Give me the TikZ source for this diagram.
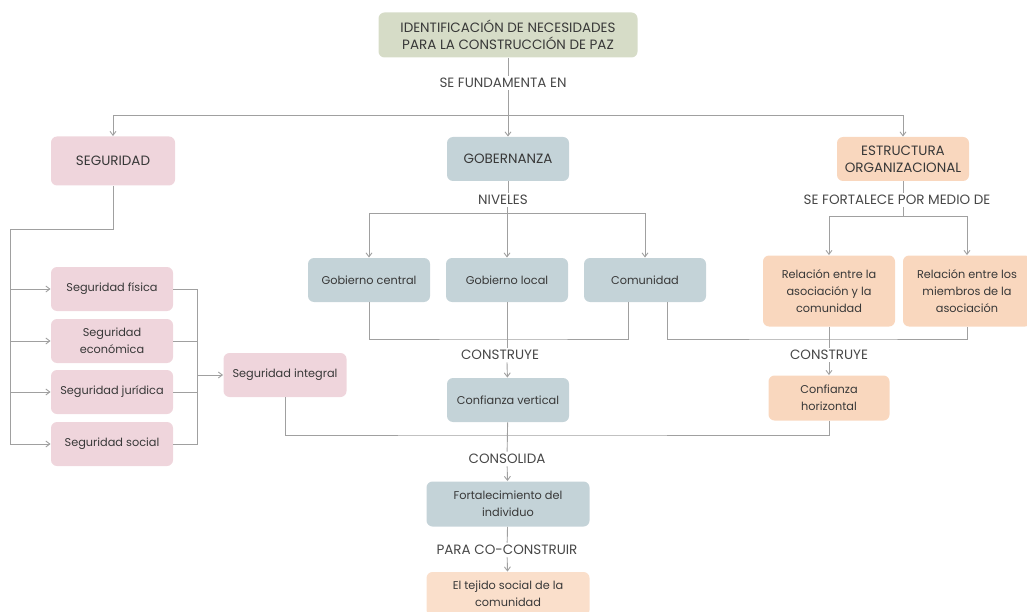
\documentclass[tikz,border=0pt]{standalone}
\usepackage{fontspec}
\setmainfont{Poppins}
\usetikzlibrary{arrows.meta}
\definecolor{sage}{HTML}{D6DCC7}
\definecolor{pinkbox}{HTML}{EFD5DC}
\definecolor{bluebox}{HTML}{C4D3D8}
\definecolor{peachbox}{HTML}{F9D7BE}
\definecolor{linegray}{HTML}{A0A0A0}
\tikzset{
  box/.style={rounded corners=6pt, align=center, inner sep=0pt, text=black!78,
    font=\fontsize{11.3}{17}\selectfont, minimum width=122, minimum height=44},
  caps/.style={font=\fontsize{13.5}{17}\selectfont},
  seg/.style={box, fill=pinkbox},
  gob/.style={box, fill=bluebox},
  est/.style={box, fill=peachbox},
  lbl/.style={inner sep=2pt, text=black!72, font=\fontsize{13.5}{16}\selectfont}
}
\begin{document}
\begin{tikzpicture}[x=1pt, y=-1pt, line width=0.9pt, draw=linegray, >={Straight Barb[length=4pt,width=6pt]}]
      \useasboundingbox (0,0) rectangle (1027,612);
      \draw
        (508,35) node[box, caps, fill=sage, minimum width=259, minimum height=45] (top){IDENTIFICACIÓN DE NECESIDADES\\PARA LA CONSTRUCCIÓN DE PAZ}
        (503,83) node[lbl] (fund){SE FUNDAMENTA EN}
        (113,161) node[seg, caps, minimum width=124, minimum height=49] (seg){SEGURIDAD}
        (508,159) node[gob, caps] (gob){GOBERNANZA}
        (903,159) node[est, caps, minimum width=132] (est){ESTRUCTURA\\ORGANIZACIONAL}
        (503,200) node[lbl] (niv){NIVELES}
        (897,200) node[lbl] (fort){SE FORTALECE POR MEDIO DE}
        (369,280) node[gob] (gcen){Gobierno central}
        (507,280) node[gob] (gloc){Gobierno local}
        (645,280) node[gob] (com){Comunidad}
        (829,291) node[est, minimum width=132, minimum height=71] (rasoc){Relación entre la\\asociación y la\\comunidad}
        (967,291) node[est, minimum width=128, minimum height=71] (rmiem){Relación entre los\\miembros de la\\asociación}
        (112,289) node[seg] (sfis){Seguridad física}
        (112,341) node[seg] (seco){Seguridad\\económica}
        (112,392) node[seg] (sjur){Seguridad jurídica}
        (112,444) node[seg] (ssoc){Seguridad social}
        (285,375) node[seg, minimum width=123] (sint){Seguridad integral}
        (500,355) node[lbl] (cons1){CONSTRUYE}
        (829,355) node[lbl] (cons2){CONSTRUYE}
        (508,400) node[gob] (cver){Confianza vertical}
        (829,398) node[est, minimum width=121, minimum height=45] (chor){Confianza\\horizontal}
        (507,459) node[lbl] (consol){CONSOLIDA}
        (508,504) node[gob, minimum width=163, minimum height=45] (fortal){Fortalecimiento del\\individuo}
        (507,550) node[lbl] (para){PARA CO-CONSTRUIR}
        (508,594) node[est, fill=peachbox!80, minimum width=163] (tej){El tejido social de la\\comunidad};
      \coordinate (bus1) at (508,115);
      \coordinate (bus2) at (508,213);
      \coordinate (bus3) at (903,216);
      \coordinate (j1) at (508,339);
      \coordinate (j2) at (829,339);
      \coordinate (j3) at (508,435);
      \coordinate (s1) at (10,229);
      \coordinate (s2) at (10,444);
      \coordinate (r1) at (197,289);
      \coordinate (r2) at (197,444);
      \begin{scope}[linegray]
        \draw (top) -- (top |- fund.north);
        \draw[->] (top |- fund.south) -- (gob);
        \draw[->] (bus1) -| (seg);
        \draw[->] (bus1) -| (est);
        \draw (gob) -- (gob |- niv.north);
        \draw[->] (gloc |- niv.south) -- (gloc);
        \draw[->] (bus2) -| (gcen);
        \draw[->] (bus2) -| (com);
        \draw (est) -- (est |- fort.north);
        \draw (est |- fort.south) -- (bus3);
        \draw[->] (bus3) -| (rasoc);
        \draw[->] (bus3) -| (rmiem);
        \draw (gcen.south) |- (j1) -| ([xshift=-17]com.south);
        \draw (gloc) -- (gloc |- cons1.north);
        \draw[->] (gloc |- cons1.south) -- (cver);
        \draw ([xshift=22]com.south) |- (j2) -| (rmiem.south);
        \draw (rasoc) -- (cons2);
        \draw[->] (cons2) -- (chor);
        \draw (seg) |- (s1) -- (s2);
        \draw[->] (s1 |- sfis) -- (sfis);
        \draw[->] (s1 |- seco) -- (seco);
        \draw[->] (s1 |- sjur) -- (sjur);
        \draw[->] (s2) -- (ssoc);
        \draw (sfis.east) -- (r1) -- (r2) -- (ssoc.east);
        \draw (seco.east) -- (seco -| r1);
        \draw (sjur.east) -- (sjur -| r1);
        \draw[->] (sint -| r1) -- (sint);
        \draw (sint) |- (j3) -| (chor);
        \draw (cver) -- (consol);
        \draw[->] (consol) -- (fortal);
        \draw (fortal) -- (para);
        \draw[->] (para) -- (tej);
      \end{scope}
    \end{tikzpicture}
\end{document}
